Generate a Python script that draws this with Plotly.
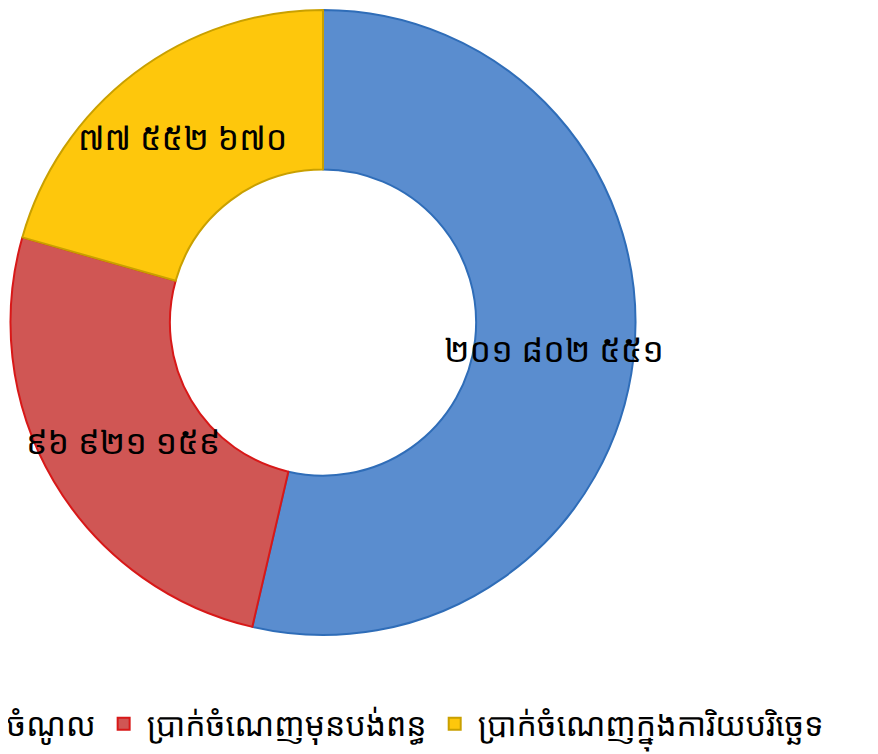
import math
import plotly.graph_objects as go

labels = ["ចំណូល", "ប្រាក់ចំណេញមុនបង់ពន្ធ", "ប្រាក់ចំណេញក្នុងការិយបរិច្ឆេទ"]
values = [201802551, 96921159, 77552670]
value_text = ["២០១ ៨០២ ៥៥១", "៩៦ ៩២១ ១៥៩", "៧៧ ៥៥២ ៦៧០"]
colors = ["#5A8DCF", "#D05654", "#FEC70C"]
border_colors = ["#2F6DB8", "#D81818", "#C9A000"]

font_family = "Noto Sans Khmer, Khmer OS, Noto Sans, DejaVu Sans, sans-serif"

W, H = 878, 754
M_B = 70
PH = H - M_B
HOLE = 0.49
# page body has an 8px margin; positions below are in figure pixels
dom_x = [2 / W, 628 / W]
dom_y = [1 - 627 / PH, 1 - 2 / PH]

fig = go.Figure(
    go.Pie(
        labels=labels,
        values=values,
        textinfo="none",
        hole=HOLE,
        sort=False,
        direction="clockwise",
        rotation=0,
        marker=dict(colors=colors, line=dict(color=border_colors, width=2)),
        domain=dict(x=dom_x, y=dom_y),
        hoverinfo="label+value+percent",
    )
)

# value labels at mid-angle / mid-ring of each slice (derived from the data)
cx = (dom_x[0] + dom_x[1]) / 2
cy = (dom_y[0] + dom_y[1]) / 2
r_px = min((dom_x[1] - dom_x[0]) * W, (dom_y[1] - dom_y[0]) * PH) / 2
r_mid = r_px * (1 + HOLE) / 2
total = sum(values)
cum = 0.0
for v, t in zip(values, value_text):
    mid = (cum + v / 2) / total * 2 * math.pi
    cum += v
    ax = cx + r_mid * math.sin(mid) / W
    ay = cy + r_mid * math.cos(mid) / PH
    fig.add_annotation(
        x=ax, y=ay, xref="paper", yref="paper", text=t, showarrow=False,
        xanchor="center", yanchor="middle",
        font=dict(family=font_family, size=34, color="black"),
    )

fig.update_layout(
    width=W,
    height=H,
    paper_bgcolor="white",
    plot_bgcolor="white",
    margin=dict(l=0, r=0, t=0, b=M_B, autoexpand=False),
    font=dict(family=font_family, size=32, color="black"),
    showlegend=True,
    legend=dict(
        orientation="h",
        x=-0.054,
        xanchor="left",
        y=-(716 - PH) / PH,
        yanchor="middle",
        itemwidth=36,
        font=dict(family=font_family, size=32, color="black"),
        traceorder="normal",
    ),
)

fig.write_html("out.html")
